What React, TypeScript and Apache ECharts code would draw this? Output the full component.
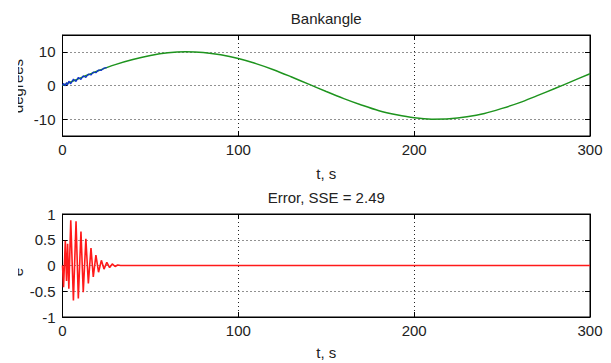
import React, { useEffect, useRef } from "react";
import * as echarts from "echarts";

// Bank angle, reference (green), sampled every 10 s
const refTime = [0, 10, 20, 30, 40, 50, 60, 70, 80, 90, 100, 110, 120, 130, 140, 150, 160, 170, 180, 190, 200, 210, 220, 230, 240, 250, 260, 270, 280, 290, 300];
const refAngle = [0, 2.2, 4.3, 6.2, 7.7, 8.9, 9.7, 10.0, 9.8, 9.1, 8.0, 6.5, 4.7, 2.6, 0.4, -1.8, -3.9, -5.8, -7.5, -8.7, -9.6, -10.0, -9.9, -9.3, -8.3, -6.8, -5.1, -3.0, -0.9, 1.3, 3.5];

// Bank angle, model (blue), early transient
const modelTime = [0, 0.6, 1.6, 2.3, 2.9, 3.6, 4.7, 6.2, 7.7, 9.0, 10.5, 11.8, 13.3, 14.7, 16.2, 17.5, 19.0, 20.5, 22.1, 23.6, 25.2];
const modelAngle = [0, 0.6, -0.1, 0.9, 0.2, 1.3, 0.5, 1.9, 1.2, 2.4, 1.8, 2.9, 2.4, 3.4, 3.1, 4.0, 3.8, 4.6, 4.5, 5.2, 5.3];

// Error (red)
const errTime = [0, 0.6, 1.6, 2.3, 2.9, 3.6, 4.7, 6.2, 7.7, 9.0, 10.5, 11.8, 13.3, 14.7, 16.2, 17.5, 19.0, 20.5, 22.1, 23.6, 25.2, 26.8, 28.3, 29.9, 31.4, 33, 300];
const errValue = [0, -0.42, 0.48, -0.3, 0.42, -0.45, 0.88, -0.68, 0.86, -0.64, 0.66, -0.52, 0.52, -0.35, 0.34, -0.22, 0.2, -0.13, 0.1, -0.07, 0.06, -0.04, 0.03, -0.02, 0.01, 0, 0];

const angleTicks = [-10, 0, 10];
const errTicks = [-1, -0.5, 0, 0.5, 1];

const titles = ["Bankangle", "Error, SSE = 2.49"];
const xLabel = "t, s";
const yLabels = ["degrees", "e"];

const FONT = "Liberation Sans, Arial, sans-serif";

export default function App() {
  const ref = useRef<HTMLDivElement>(null);
  useEffect(() => {
    if (!ref.current) return;
    const chart = echarts.init(ref.current, undefined, { renderer: "svg" });
    const L = 62.5, R = 590;
    const grids = [
      { left: L, width: R - L, top: 35, height: 101 },
      { left: L, width: R - L, top: 214, height: 103 },
    ];
    const dotted = { show: true, lineStyle: { color: "#222", type: [1, 3] as any, width: 1 } };
    const axisLine = { show: true, onZero: false, lineStyle: { color: "#000", width: 1 } };
    const tick = { show: true, inside: true, length: 5, lineStyle: { color: "#000" } };
    const label = { color: "#222", fontSize: 15, fontFamily: FONT };
    const xAxisFor = (g: number) => [
      {
        type: "value", gridIndex: g, min: 0, max: 300, interval: 100, position: "bottom",
        axisLine, axisTick: tick, splitLine: dotted,
        axisLabel: { ...label, margin: 6 },
      },
      {
        type: "value", gridIndex: g, min: 0, max: 300, interval: 100, position: "top",
        axisLine, axisTick: tick, splitLine: { show: false }, axisLabel: { show: false },
      },
    ];
    const yAxisFor = (g: number, min: number, max: number, ticks: number[]) => [
      {
        type: "value", gridIndex: g, min, max, position: "left",
        axisLine, axisTick: { ...tick, customValues: ticks }, splitLine: dotted,
        axisLabel: { ...label, margin: 7, customValues: ticks },
      },
      {
        type: "value", gridIndex: g, min, max, position: "right",
        axisLine, axisTick: { ...tick, customValues: ticks }, splitLine: { show: false },
        axisLabel: { show: false, customValues: ticks },
      },
    ];
    const cx = (L + R) / 2;
    const txt = (text: string, x: number, y: number, rot = 0) => ({
      type: "text", x, y, rotation: rot, z: 10,
      style: { text, fill: "#222", font: `15px ${FONT}`, textAlign: "center", textVerticalAlign: "middle" },
    });
    chart.setOption({
      animation: false,
      backgroundColor: "#ffffff",
      grid: grids.map((g) => ({ ...g, show: true, borderColor: "#000", borderWidth: 1, backgroundColor: "#fff" })),
      xAxis: [...xAxisFor(0), ...xAxisFor(1)],
      yAxis: [...yAxisFor(0, -15, 15, angleTicks), ...yAxisFor(1, -1, 1, errTicks)],
      series: [
        {
          type: "line", xAxisIndex: 0, yAxisIndex: 0, symbol: "none", smooth: 0.3,
          data: refTime.map((t, i) => [t, refAngle[i]]),
          lineStyle: { color: "#1e941e", width: 1.5 }, z: 3,
        },
        {
          type: "line", xAxisIndex: 0, yAxisIndex: 0, symbol: "none",
          data: modelTime.map((t, i) => [t, modelAngle[i]]),
          lineStyle: { color: "#1030d0", width: 1.2 }, z: 4,
        },
        {
          type: "line", xAxisIndex: 2, yAxisIndex: 2, symbol: "none",
          data: errTime.map((t, i) => [t, errValue[i]]),
          lineStyle: { color: "#ff1a1a", width: 1.6 }, z: 5,
        },
      ],
      graphic: [
        txt(titles[0], cx, 18),
        txt(titles[1], cx, 197),
        txt(xLabel, cx, 173),
        txt(xLabel, cx, 352),
        txt(yLabels[0], 17, 86, Math.PI / 2),
        txt(yLabels[1], 17, 272, Math.PI / 2),
        { type: "rect", shape: { x: 0, y: 0, width: 18, height: 363 }, style: { fill: "#fff" }, z: 20 },
      ],
    } as any);
    return () => chart.dispose();
  }, []);
  return <div ref={ref} style={{ position: "absolute", left: 0, top: 0, width: 611, height: 363 }} />;
}
